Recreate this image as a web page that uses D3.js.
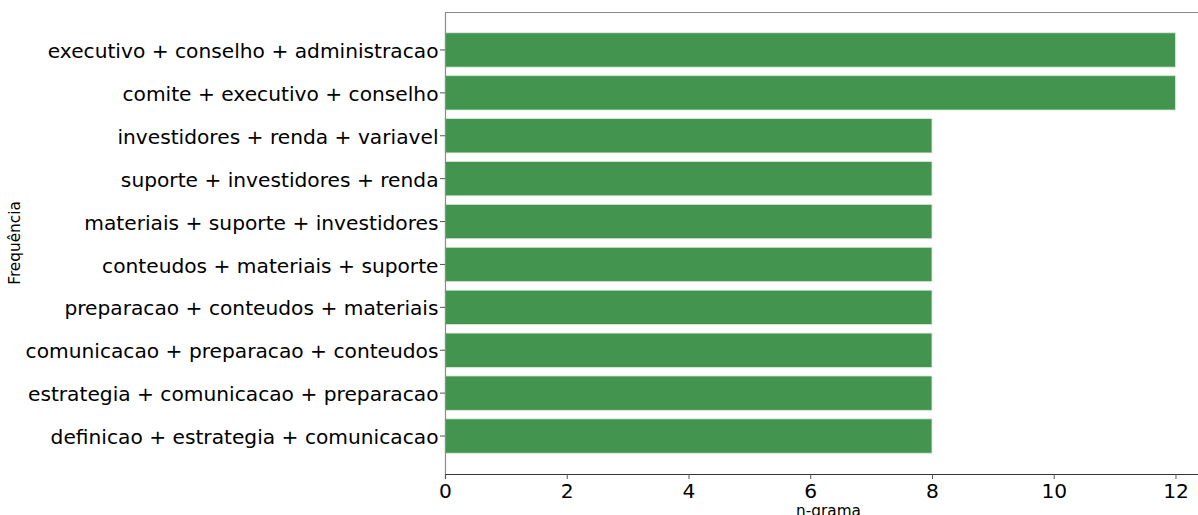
<!DOCTYPE html>
<html>
<head>
<meta charset="utf-8">
<script src="https://cdn.jsdelivr.net/npm/d3@7"></script>
<style>
  html, body { margin: 0; padding: 0; background: #fff; }
  svg { display: block; font-family: "DejaVu Sans", sans-serif; }
</style>
</head>
<body>
<svg id="chart" width="1198" height="515"></svg>
<script>
// Trigram frequencies, listed top to bottom
const ngrams = [
  "executivo + conselho + administracao",
  "comite + executivo + conselho",
  "investidores + renda + variavel",
  "suporte + investidores + renda",
  "materiais + suporte + investidores",
  "conteudos + materiais + suporte",
  "preparacao + conteudos + materiais",
  "comunicacao + preparacao + conteudos",
  "estrategia + comunicacao + preparacao",
  "definicao + estrategia + comunicacao"
];
const counts = [12, 12, 8, 8, 8, 8, 8, 8, 8, 8];
const xTicks = [0, 2, 4, 6, 8, 10, 12];

(function draw() {
  const svg = d3.select("#chart");
  const m = { left: 445, top: 12, right: 1212, bottom: 474 };

  const x = d3.scaleLinear().domain([0, 12.6]).range([m.left, m.right]);
  const y = d3.scaleBand().domain(ngrams).range([m.top, m.bottom])
    .paddingInner(0.2).paddingOuter(0.485);

  // bars
  svg.append("g").selectAll("rect")
    .data(ngrams)
    .join("rect")
    .attr("x", x(0))
    .attr("y", d => y(d))
    .attr("width", (d, i) => x(counts[i]) - x(0))
    .attr("height", y.bandwidth())
    .attr("fill", "#43944f")
    .attr("stroke", "#d9ead9")
    .attr("stroke-width", 0.8);

  // spines
  svg.append("line").attr("x1", m.left).attr("x2", m.right).attr("y1", m.top + 0.5).attr("y2", m.top + 0.5)
    .attr("stroke", "#8c8c8c").attr("stroke-width", 1.2);
  svg.append("line").attr("x1", m.left + 0.5).attr("x2", m.left + 0.5).attr("y1", m.top).attr("y2", m.bottom)
    .attr("stroke", "#8c8c8c").attr("stroke-width", 1.2);

  // x axis
  const xAxis = svg.append("g")
    .attr("transform", `translate(0,${m.bottom})`)
    .call(d3.axisBottom(x).tickValues(xTicks).tickFormat(d3.format("d")).tickSize(5).tickPadding(5));
  xAxis.select(".domain").attr("stroke", "#333").attr("stroke-width", 1.2);
  xAxis.selectAll(".tick line").attr("stroke", "#555");
  xAxis.selectAll("text").attr("font-size", "20.2px").attr("fill", "#000")
    .attr("font-family", "DejaVu Sans, sans-serif");

  // y axis
  const yAxis = svg.append("g")
    .attr("transform", `translate(${m.left},0)`)
    .call(d3.axisLeft(y).tickSize(5).tickPadding(1.5));
  yAxis.select(".domain").remove();
  yAxis.selectAll(".tick line").attr("stroke", "#555");
  yAxis.selectAll("text").attr("font-size", "20.2px").attr("fill", "#000")
    .attr("dy", "0.4em")
    .attr("font-family", "DejaVu Sans, sans-serif");

  // axis titles
  svg.append("text")
    .attr("x", (m.left + m.right) / 2).attr("y", 516)
    .attr("text-anchor", "middle")
    .attr("font-size", "15.3px").attr("fill", "#000")
    .text("n-grama");

  svg.append("text")
    .attr("transform", `translate(20,${(m.top + m.bottom) / 2}) rotate(-90)`)
    .attr("text-anchor", "middle")
    .attr("font-size", "15.3px").attr("fill", "#000")
    .text("Frequência");
})();
</script>
</body>
</html>
